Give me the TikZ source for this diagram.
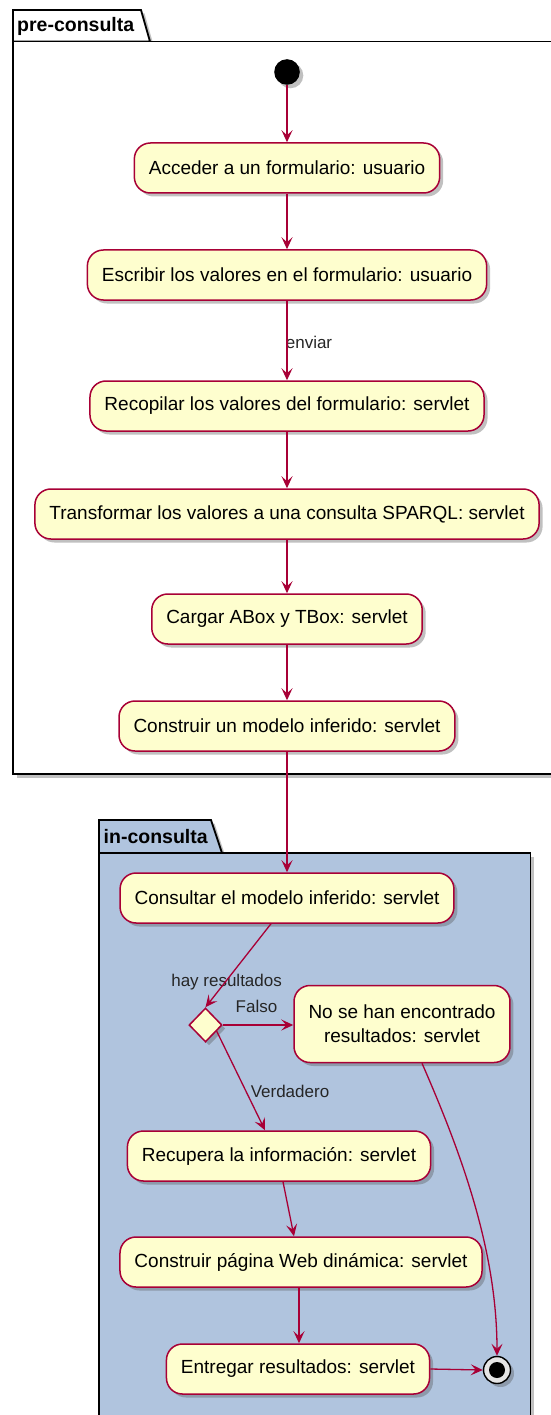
\documentclass[tikz,border=0pt]{standalone}
\usepackage{fontspec}
\setmainfont{Liberation Sans}
\usetikzlibrary{shapes.geometric,arrows.meta,shadows,calc}
\definecolor{umlred}{HTML}{A80036}
\definecolor{umlfill}{HTML}{FEFECE}
\definecolor{pkgblue}{HTML}{B0C4DE}
\tikzset{
 shdw/.style={drop shadow={shadow xshift=3.5pt, shadow yshift=-3.5pt, opacity=0.35, fill=black!70}},
 act/.style={draw=umlred, fill=umlfill, line width=1.5pt, rounded corners=16pt, minimum height=50pt, inner xsep=14.5pt, font=\fontsize{19}{24}\selectfont, align=center, shdw},
 flow/.style={draw=umlred, line width=1.3pt, -{Stealth[length=12pt,width=11pt,inset=5pt]}},
 lbl/.style={font=\fontsize{17}{20}\selectfont, inner sep=0pt, text=black!85},
 pkg/.style={draw=black, line width=1.8pt},
 pkgtitle/.style={font=\bfseries\fontsize{19.5}{22}\selectfont, anchor=west, inner sep=0pt},
}
\begin{document}
\begin{tikzpicture}[x=1pt,y=-1pt]
\useasboundingbox (0,0) rectangle (551,1415);
% pre-consulta package
\path[pkg, fill=white, shdw] (13,41.5) -- (13,10) -- (141,10) -- (150,41.5) -- cycle;
\path[pkg, fill=white, shdw] (13,41.5) rectangle (580,774);
\node[pkgtitle] (pretitle) at (17,26) {pre-consulta};
% in-consulta package
\path[pkg, fill=pkgblue, shdw] (99,853) -- (99,820) -- (211,820) -- (222,853) -- cycle;
\path[pkg, fill=pkgblue, shdw] (99,853) rectangle (530.5,1440);
\node[pkgtitle] (intitle) at (103.5,837) {in-consulta};
% nodes
\node[circle, fill=black, minimum size=25.6pt, inner sep=0pt, shdw] (start) at (287,72) {};
\node[act] (a1) at (287,168) {Acceder a un formulario: usuario};
\node[act] (a2) at (287,275) {Escribir los valores en el formulario: usuario};
\node[act] (a3) at (287,406) {Recopilar los valores del formulario: servlet};
\node[act] (a4) at (287,514) {Transformar los valores a una consulta SPARQL: servlet};
\node[act] (a5) at (287,619) {Cargar ABox y TBox: servlet};
\node[act] (a6) at (287,726) {Construir un modelo inferido: servlet};
\node[act] (b1) at (287,898) {Consultar el modelo inferido: servlet};
\node[diamond, draw=umlred, fill=umlfill, line width=1.5pt, minimum width=33pt, minimum height=34pt, inner sep=0pt, shdw] (dia) at (205.5,1025) {};
\node[act, minimum height=77pt] (nf) at (402,1024) {No se han encontrado\\resultados: servlet};
\node[act] (b2) at (279,1156) {Recupera la información: servlet};
\node[act] (b3) at (301,1262) {Construir página Web dinámica: servlet};
\node[act] (b4) at (298,1369) {Entregar resultados: servlet};
\node[circle, draw=black, line width=1.4pt, fill=gray!20, minimum size=27pt, inner sep=0pt, shdw] (end) at (497,1370) {};
\node[circle, fill=black, minimum size=16pt, inner sep=0pt] (endin) at (end) {};
% labels
\node[lbl] (lenviar) at (309,342) {enviar};
\node[lbl] (lhay) at (226.6,981.6) {hay resultados};
\node[lbl] (lfalso) at (256.5,1006) {Falso};
\node[lbl] (lverd) at (290,1091) {Verdadero};
% connectors
\draw[flow] (start) -- (a1);
\draw[flow] (a1) -- (a2);
\draw[flow] (a2) -- (a3);
\draw[flow] (a3) -- (a4);
\draw[flow] (a4) -- (a5);
\draw[flow] (a5) -- (a6);
\draw[flow] (a6) -- (b1);
\draw[flow] ([xshift=-16pt]b1.south) -- (dia.north);
\draw[flow] (dia.east) -- (nf.west |- dia.east);
\draw[flow] ($(dia.east)!0.35!(dia.south)$) -- ([xshift=-14pt]b2.north);
\draw[flow] ([xshift=4pt]b2.south) -- ([xshift=-7pt]b3.north);
\draw[flow] ([xshift=-2pt]b3.south) -- ([xshift=1pt]b4.north);
\draw[flow] (b4.east) -- (end.west);
\draw[flow] ([xshift=20pt]nf.south) .. controls +(38,87) and +(0,-107) .. (end.north);
\end{tikzpicture}
\end{document}
